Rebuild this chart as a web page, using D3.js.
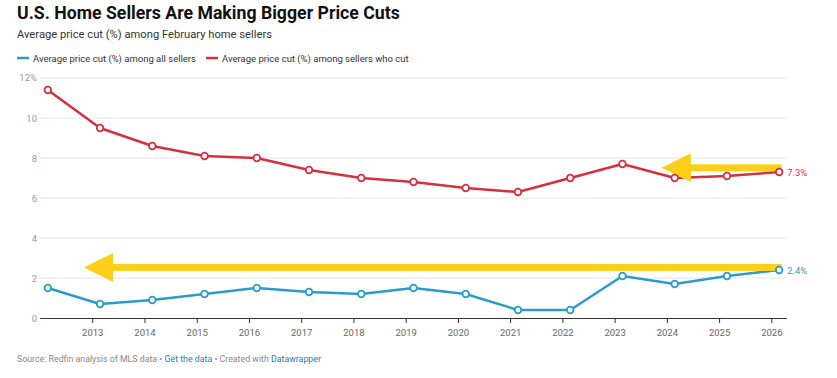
<!DOCTYPE html>
<html><head><meta charset="utf-8">
<script src="https://cdn.jsdelivr.net/npm/d3@7"></script>
<style>
body{margin:0;background:#fff;font-family:Roboto,"Noto Sans",sans-serif;}
svg{display:block;}
</style></head>
<body><svg id="c" width="837" height="378"></svg>
<script>
const years = [2012,2013,2014,2015,2016,2017,2018,2019,2020,2021,2022,2023,2024,2025,2026];
const allSellers = [1.5,0.7,0.9,1.2,1.5,1.3,1.2,1.5,1.2,0.4,0.4,2.1,1.7,2.1,2.4];
const sellersWhoCut = [11.4,9.5,8.6,8.1,8.0,7.4,7.0,6.8,6.5,6.3,7.0,7.7,7.0,7.1,7.3];
const yTicks = [0,2,4,6,8,10,12];
const xTickYears = [2013,2014,2015,2016,2017,2018,2019,2020,2021,2022,2023,2024,2025,2026];
const seriesNames = ["Average price cut (%) among all sellers","Average price cut (%) among sellers who cut"];
const colors = ["#2a9ccb","#d5303e"];
// annotation arrows in data units: [tipYear, headBaseYear, tailYear, value]
const arrows = [[2012.84,2013.4,2026.2,2.53],[2023.9,2024.46,2026.2,7.51]];

const svg = d3.select("#c");
const x = d3.scaleLinear().domain([2012, 2026.3]).range([40, 787]);
const y = d3.scaleLinear().domain([0, 12]).range([318, 78]);
const FEB = 0.15;

// Title
svg.append("text").attr("x",17).attr("y",18.5).attr("font-size",17.7).attr("font-weight",700).attr("fill","#111")
  .text("U.S. Home Sellers Are Making Bigger Price Cuts");
svg.append("text").attr("x",17).attr("y",38).attr("font-size",11.2).attr("fill","#333")
  .text("Average price cut (%) among February home sellers");

// Legend
const lg = svg.append("g").attr("transform","translate(17,61.5)");
let lx = 0;
seriesNames.forEach((n,i)=>{
  lg.append("line").attr("x1",lx).attr("x2",lx+12).attr("y1",-3.5).attr("y2",-3.5).attr("stroke",colors[i]).attr("stroke-width",2.5);
  const t = lg.append("text").attr("x",lx+16).attr("y",0).attr("font-size",9.5).attr("fill","#333").text(n);
  lx += 16 + t.node().getComputedTextLength() + 10;
});

// Grid & y labels
const grid = svg.append("g");
yTicks.filter(d=>d>0).forEach(d=>{
  grid.append("line").attr("x1",40).attr("x2",787).attr("y1",y(d)).attr("y2",y(d)).attr("stroke","#e6e6e6").attr("stroke-width",1);
});
yTicks.forEach(d=>{
  svg.append("text").attr("x",37).attr("y",y(d)+ (d===12? 3: 3.5)).attr("text-anchor","end").attr("font-size",9.5).attr("fill","#999")
    .text(d===12? d+"%": d);
});

// X axis
const xAxis = d3.axisBottom(x).tickValues(xTickYears).tickFormat(d3.format("d")).tickSize(5).tickPadding(4);
const gx = svg.append("g").attr("transform",`translate(0,${y(0)})`).call(xAxis);
gx.select(".domain").attr("stroke","#333").attr("stroke-width",1).attr("d",`M40,0.5H787`);
gx.selectAll(".tick line").attr("stroke","#333");
gx.selectAll(".tick text").attr("font-size",9.5).attr("fill","#666").attr("font-family","Roboto,sans-serif").attr("dy","0.95em");

// Lines
const line = d3.line().x((d,i)=>x(years[i]+FEB)).y(d=>y(d));
[allSellers, sellersWhoCut].forEach((s,k)=>{
  svg.append("path").attr("d",line(s)).attr("fill","none").attr("stroke",colors[k]).attr("stroke-width",2.5).attr("stroke-linejoin","round");
});

// Arrows
const gold = "#fccf1b";
arrows.forEach(([tip,base,tail,v])=>{
  svg.append("rect").attr("x",x(base)-1).attr("y",y(v)-3.5).attr("width",x(tail)-x(base)+1).attr("height",7).attr("fill",gold);
  svg.append("path").attr("d",`M${x(tip)},${y(v)}L${x(base)},${y(v)-14.5}L${x(base)},${y(v)+14.5}Z`).attr("fill",gold);
});

// Markers
[allSellers, sellersWhoCut].forEach((s,k)=>{
  svg.append("g").selectAll("circle").data(s).join("circle")
    .attr("cx",(d,i)=>x(years[i]+FEB)).attr("cy",d=>y(d)).attr("r",3.3)
    .attr("fill","#fff").attr("stroke",colors[k]).attr("stroke-width",1.8);
  const last = s[s.length-1];
  svg.append("text").attr("x",x(years[years.length-1]+FEB)+8).attr("y",y(last)+3.5)
    .attr("font-size",9.5).attr("fill",colors[k]).text(last.toFixed(1)+"%");
});

// Footer
const ft = svg.append("text").attr("x",17).attr("y",362).attr("font-size",8.8).attr("fill","#888");
ft.append("tspan").text("Source: Redfin analysis of MLS data • ");
ft.append("tspan").attr("fill","#1d81b0").text("Get the data");
ft.append("tspan").text(" • Created with ");
ft.append("tspan").attr("fill","#1d81b0").text("Datawrapper");
</script></body></html>
